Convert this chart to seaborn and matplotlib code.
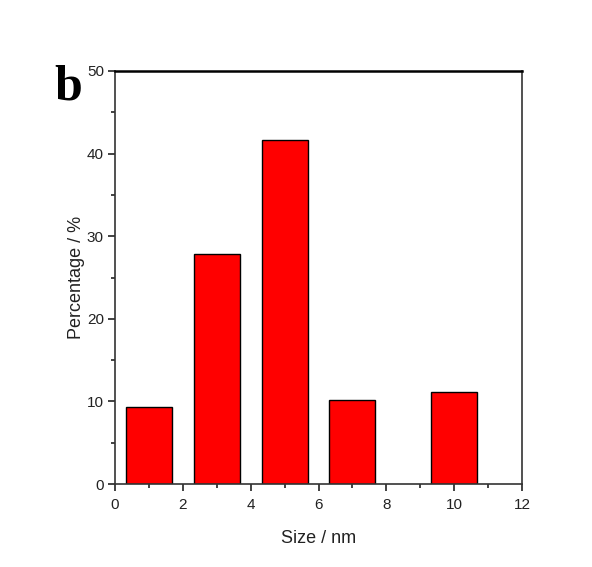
import matplotlib
matplotlib.use("Agg")
import matplotlib.pyplot as plt
import seaborn as sns
import pandas as pd
from matplotlib.ticker import MultipleLocator

sizes = [1, 3, 5, 7, 10]
percentages = [9.3, 27.8, 41.7, 10.2, 11.1]
x_ticks = [0, 2, 4, 6, 8, 10, 12]
y_ticks = [0, 10, 20, 30, 40, 50]

sns.set_theme(style="ticks")
plt.rcParams['font.family'] = ['Liberation Sans', 'DejaVu Sans']

df = pd.DataFrame({"size": sizes, "pct": percentages})

fig = plt.figure(figsize=(5.92, 5.67), dpi=100)
fig.patch.set_facecolor("white")
ax = fig.add_axes([115/592, 1 - 484/567, (522 - 115)/592, (484 - 71)/567])

sns.barplot(data=df, x="size", y="pct", native_scale=True, width=0.68,
            color="#ff0000", saturation=1, edgecolor="black", linewidth=1.0, ax=ax)

ax.set_xlim(0, 12)
ax.set_ylim(0, 50)
ax.set_xticks(x_ticks)
ax.set_yticks(y_ticks)
ax.xaxis.set_minor_locator(MultipleLocator(1))
ax.yaxis.set_minor_locator(MultipleLocator(5))
ax.tick_params(which="major", direction="out", length=5, width=1.2, labelsize=11, colors="#222222")
ax.tick_params(axis="y", which="major", pad=3)
ax.tick_params(axis="x", which="major", pad=5)
ax.tick_params(which="minor", direction="out", length=3, width=1.2, colors="#222222")
ax.tick_params(top=False, right=False, which="both")
for s in ax.spines.values():
    s.set_visible(True)
    s.set_color("#333333")
    s.set_linewidth(1.2)
ax.spines["top"].set_linewidth(1.8)
ax.spines["top"].set_color("black")

ax.set_xlabel("Size / nm", fontsize=13, labelpad=13, color="#222222")
ax.set_ylabel("Percentage / %", fontsize=13, labelpad=1, color="#222222")

fig.text(68/592, 1 - 88/567, "b", fontsize=36, fontweight="bold",
         family="Liberation Serif", ha="center", va="center", color="black")

fig.savefig("out.png", dpi=100, facecolor="white")
